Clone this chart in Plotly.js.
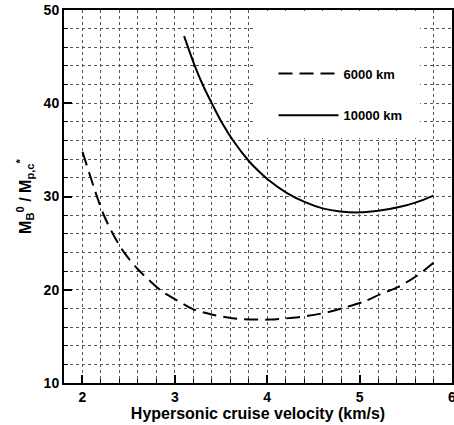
<!DOCTYPE html>
<html>
<head>
<meta charset="utf-8">
<script src="https://cdn.plot.ly/plotly-3.0.1.min.js"></script>
<style>html,body{margin:0;padding:0;background:#fff;}#chart{width:454px;height:425px;}</style>
</head>
<body>
<div id="chart"></div>
<script>
// 6000 km range (dashed)
const x6000 = [2.0, 2.16, 2.24, 2.34, 2.45, 2.60, 2.85, 3.0, 3.2, 3.42, 3.67, 3.9, 4.03, 4.28, 4.44, 4.66, 4.84, 5.04, 5.22, 5.42, 5.62, 5.8];
const y6000 = [34.8, 29.9, 27.8, 25.8, 24.0, 22.2, 19.9, 19.0, 17.9, 17.3, 16.9, 16.8, 16.8, 17.0, 17.2, 17.6, 18.1, 18.7, 19.5, 20.3, 21.5, 22.9];
// 10000 km range (solid)
const x10000 = [3.10, 3.22, 3.31, 3.41, 3.51, 3.63, 3.81, 3.92, 4.01, 4.21, 4.41, 4.61, 4.79, 5.0, 5.22, 5.44, 5.62, 5.80];
const y10000 = [47.2, 43.9, 41.8, 39.8, 37.9, 36.0, 33.7, 32.6, 31.8, 30.4, 29.4, 28.7, 28.4, 28.3, 28.5, 28.9, 29.4, 30.1];
const seriesNames = ['6000 km', '10000 km'];

const fontFam = 'Liberation Sans, Arial, sans-serif';

const traces = [
  {x: x6000, y: y6000, mode: 'lines', name: seriesNames[0], legendgroup: 'a',
   line: {color: '#000', width: 2, dash: '14px,7px', shape: 'spline', smoothing: 0.8}},
  {x: x10000, y: y10000, mode: 'lines', name: seriesNames[1], legendgroup: 'b',
   line: {color: '#000', width: 2, shape: 'spline', smoothing: 0.8}}
];

const axisCommon = {
  showline: true, linecolor: '#000', linewidth: 2, mirror: true,
  ticks: 'inside', ticklen: 8, tickwidth: 2, tickcolor: '#000',
  showgrid: true, gridcolor: '#555', griddash: 'dot', gridwidth: 1,
  zeroline: false, ticklabeloverflow: 'allow',
  tickfont: {family: fontFam, size: 14, color: '#000', weight: 700}
};

const layout = {
  width: 454, height: 425,
  margin: {l: 64, r: 2, t: 10, b: 42},
  paper_bgcolor: '#fff', plot_bgcolor: '#fff',
  showlegend: true,
  legend: {x: 0.54, y: 0.87, xanchor: 'left', yanchor: 'top', bgcolor: 'rgba(0,0,0,0)',
           tracegroupgap: 22, itemwidth: 60,
           font: {family: fontFam, size: 13, color: '#000', weight: 700}},
  xaxis: Object.assign({}, axisCommon, {
    range: [1.8, 6.0001], tick0: 2, dtick: 1,
    minor: {dtick: 0.2, tick0: 2, ticks: 'inside', ticklen: 4, tickwidth: 1, tickcolor: '#000',
            showgrid: true, gridcolor: '#555', griddash: 'dot', gridwidth: 1},
    title: {text: 'Hypersonic cruise velocity (km/s)', standoff: 0,
            font: {family: fontFam, size: 16, color: '#000', weight: 700}}
  }),
  yaxis: Object.assign({}, axisCommon, {
    range: [10, 50], tick0: 10, dtick: 10,
    minor: {dtick: 2, tick0: 10, ticks: 'inside', ticklen: 4, tickwidth: 1, tickcolor: '#000',
            showgrid: true, gridcolor: '#555', griddash: 'dot', gridwidth: 1},
    title: {text: 'M<sub>B</sub><sup>0</sup> / M<sub>p,c</sub><sup>*</sup>', standoff: 8,
            font: {family: fontFam, size: 16, color: '#000', weight: 700}}
  }),
  shapes: [
    {type: 'rect', xref: 'paper', yref: 'paper', x0: 0.487, x1: 0.918, y0: 0.657, y1: 0.997,
     fillcolor: '#fff', line: {width: 0}, layer: 'above'}
  ]
};

Plotly.newPlot('chart', traces, layout, {displayModeBar: false, staticPlot: true});
</script>
</body>
</html>
